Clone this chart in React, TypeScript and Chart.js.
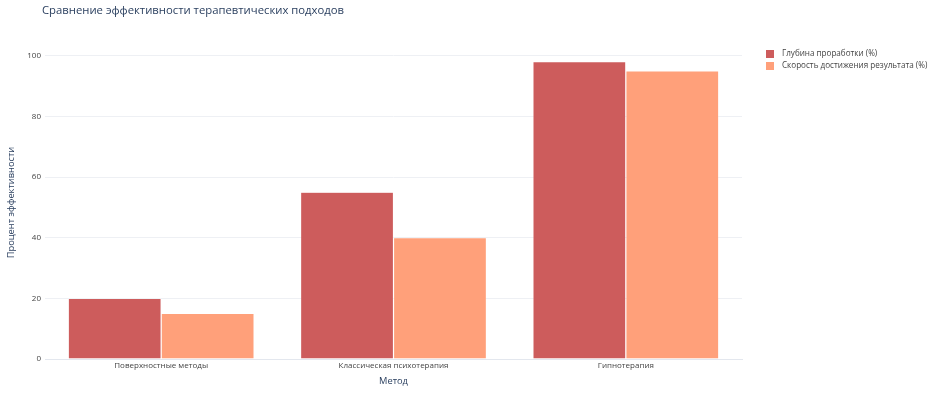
import React, { useEffect, useRef } from "react";
import { Chart, registerables } from "chart.js";

Chart.register(...registerables);

const categories = ["Поверхностные методы", "Классическая психотерапия", "Гипнотерапия"];
const depthValues = [20, 55, 98];
const speedValues = [15, 40, 95];
const seriesNames = ["Глубина проработки (%)", "Скорость достижения результата (%)"];
const yTicks = [0, 20, 40, 60, 80, 100];
const titleText = "Сравнение эффективности терапевтических подходов";
const yTitle = "Процент эффективности";
const xTitle = "Метод";

const colors = ["#CD5C5C", "#FFA07A"];
const FONT = '"Open Sans", "DejaVu Sans", sans-serif';

export default function App() {
  const ref = useRef<HTMLCanvasElement | null>(null);

  useEffect(() => {
    if (!ref.current) return;
    const overlay = {
      id: "overlay",
      afterDraw(chart: any) {
        const ctx = chart.ctx;
        ctx.save();
        ctx.fillStyle = "#2a3f5f";
        ctx.font = `11.3px ${FONT}`;
        ctx.textBaseline = "middle";
        ctx.textAlign = "left";
        ctx.fillText(titleText, 42, 11);
        ctx.font = `8.1px ${FONT}`;
        seriesNames.forEach((n, i) => {
          const y = 54 + i * 12;
          ctx.fillStyle = colors[i];
          ctx.fillRect(766, y - 4, 8, 8);
          ctx.fillStyle = "#444";
          ctx.fillText(n, 782, y);
        });
        ctx.restore();
      },
    };
    const chart = new Chart(ref.current, {
      type: "bar",
      data: {
        labels: categories,
        datasets: [
          {
            label: seriesNames[0],
            data: depthValues,
            backgroundColor: colors[0],
            borderColor: "rgba(255,255,255,0.35)",
            borderWidth: 0.6,
          },
          {
            label: seriesNames[1],
            data: speedValues,
            backgroundColor: colors[1],
            borderColor: "rgba(255,255,255,0.35)",
            borderWidth: 0.6,
          },
        ],
      },
      options: {
        animation: false,
        responsive: false,
        maintainAspectRatio: false,
        layout: { padding: { left: 0, right: 192, top: 46, bottom: 8 } },
        datasets: { bar: { categoryPercentage: 0.8, barPercentage: 1.0 } },
        plugins: { legend: { display: false }, title: { display: false }, tooltip: { enabled: false } },
        scales: {
          x: {
            grid: { display: false, drawTicks: false },
            border: { display: true, color: "#e3e7ee" },
            ticks: { color: "#444", font: { family: FONT, size: 8 }, padding: 2, maxRotation: 0 },
            title: { display: true, text: xTitle, color: "#2a3f5f", font: { family: FONT, size: 9.3 }, padding: { top: 4, bottom: 0 } },
            afterFit: (s: any) => { s.height = 28; },
          },
          y: {
            min: 0,
            max: 103.2,
            grid: { color: "#eef0f4", drawTicks: false },
            border: { display: false },
            afterBuildTicks: (s: any) => { s.ticks = yTicks.map((v) => ({ value: v })); },
            ticks: { color: "#444", font: { family: FONT, size: 8 }, padding: 4 },
            title: { display: true, text: yTitle, color: "#2a3f5f", font: { family: FONT, size: 9.3 }, padding: { top: 6, bottom: 0 } },
            afterFit: (s: any) => { s.width = 45; },
          },
        },
      },
      plugins: [overlay],
    });
    return () => chart.destroy();
  }, []);

  return (
    <div style={{ position: "fixed", left: 0, top: 0, width: 934, height: 395, background: "#fff" }}>
      <canvas ref={ref} width={934} height={395} style={{ width: 934, height: 395 }} />
    </div>
  );
}
